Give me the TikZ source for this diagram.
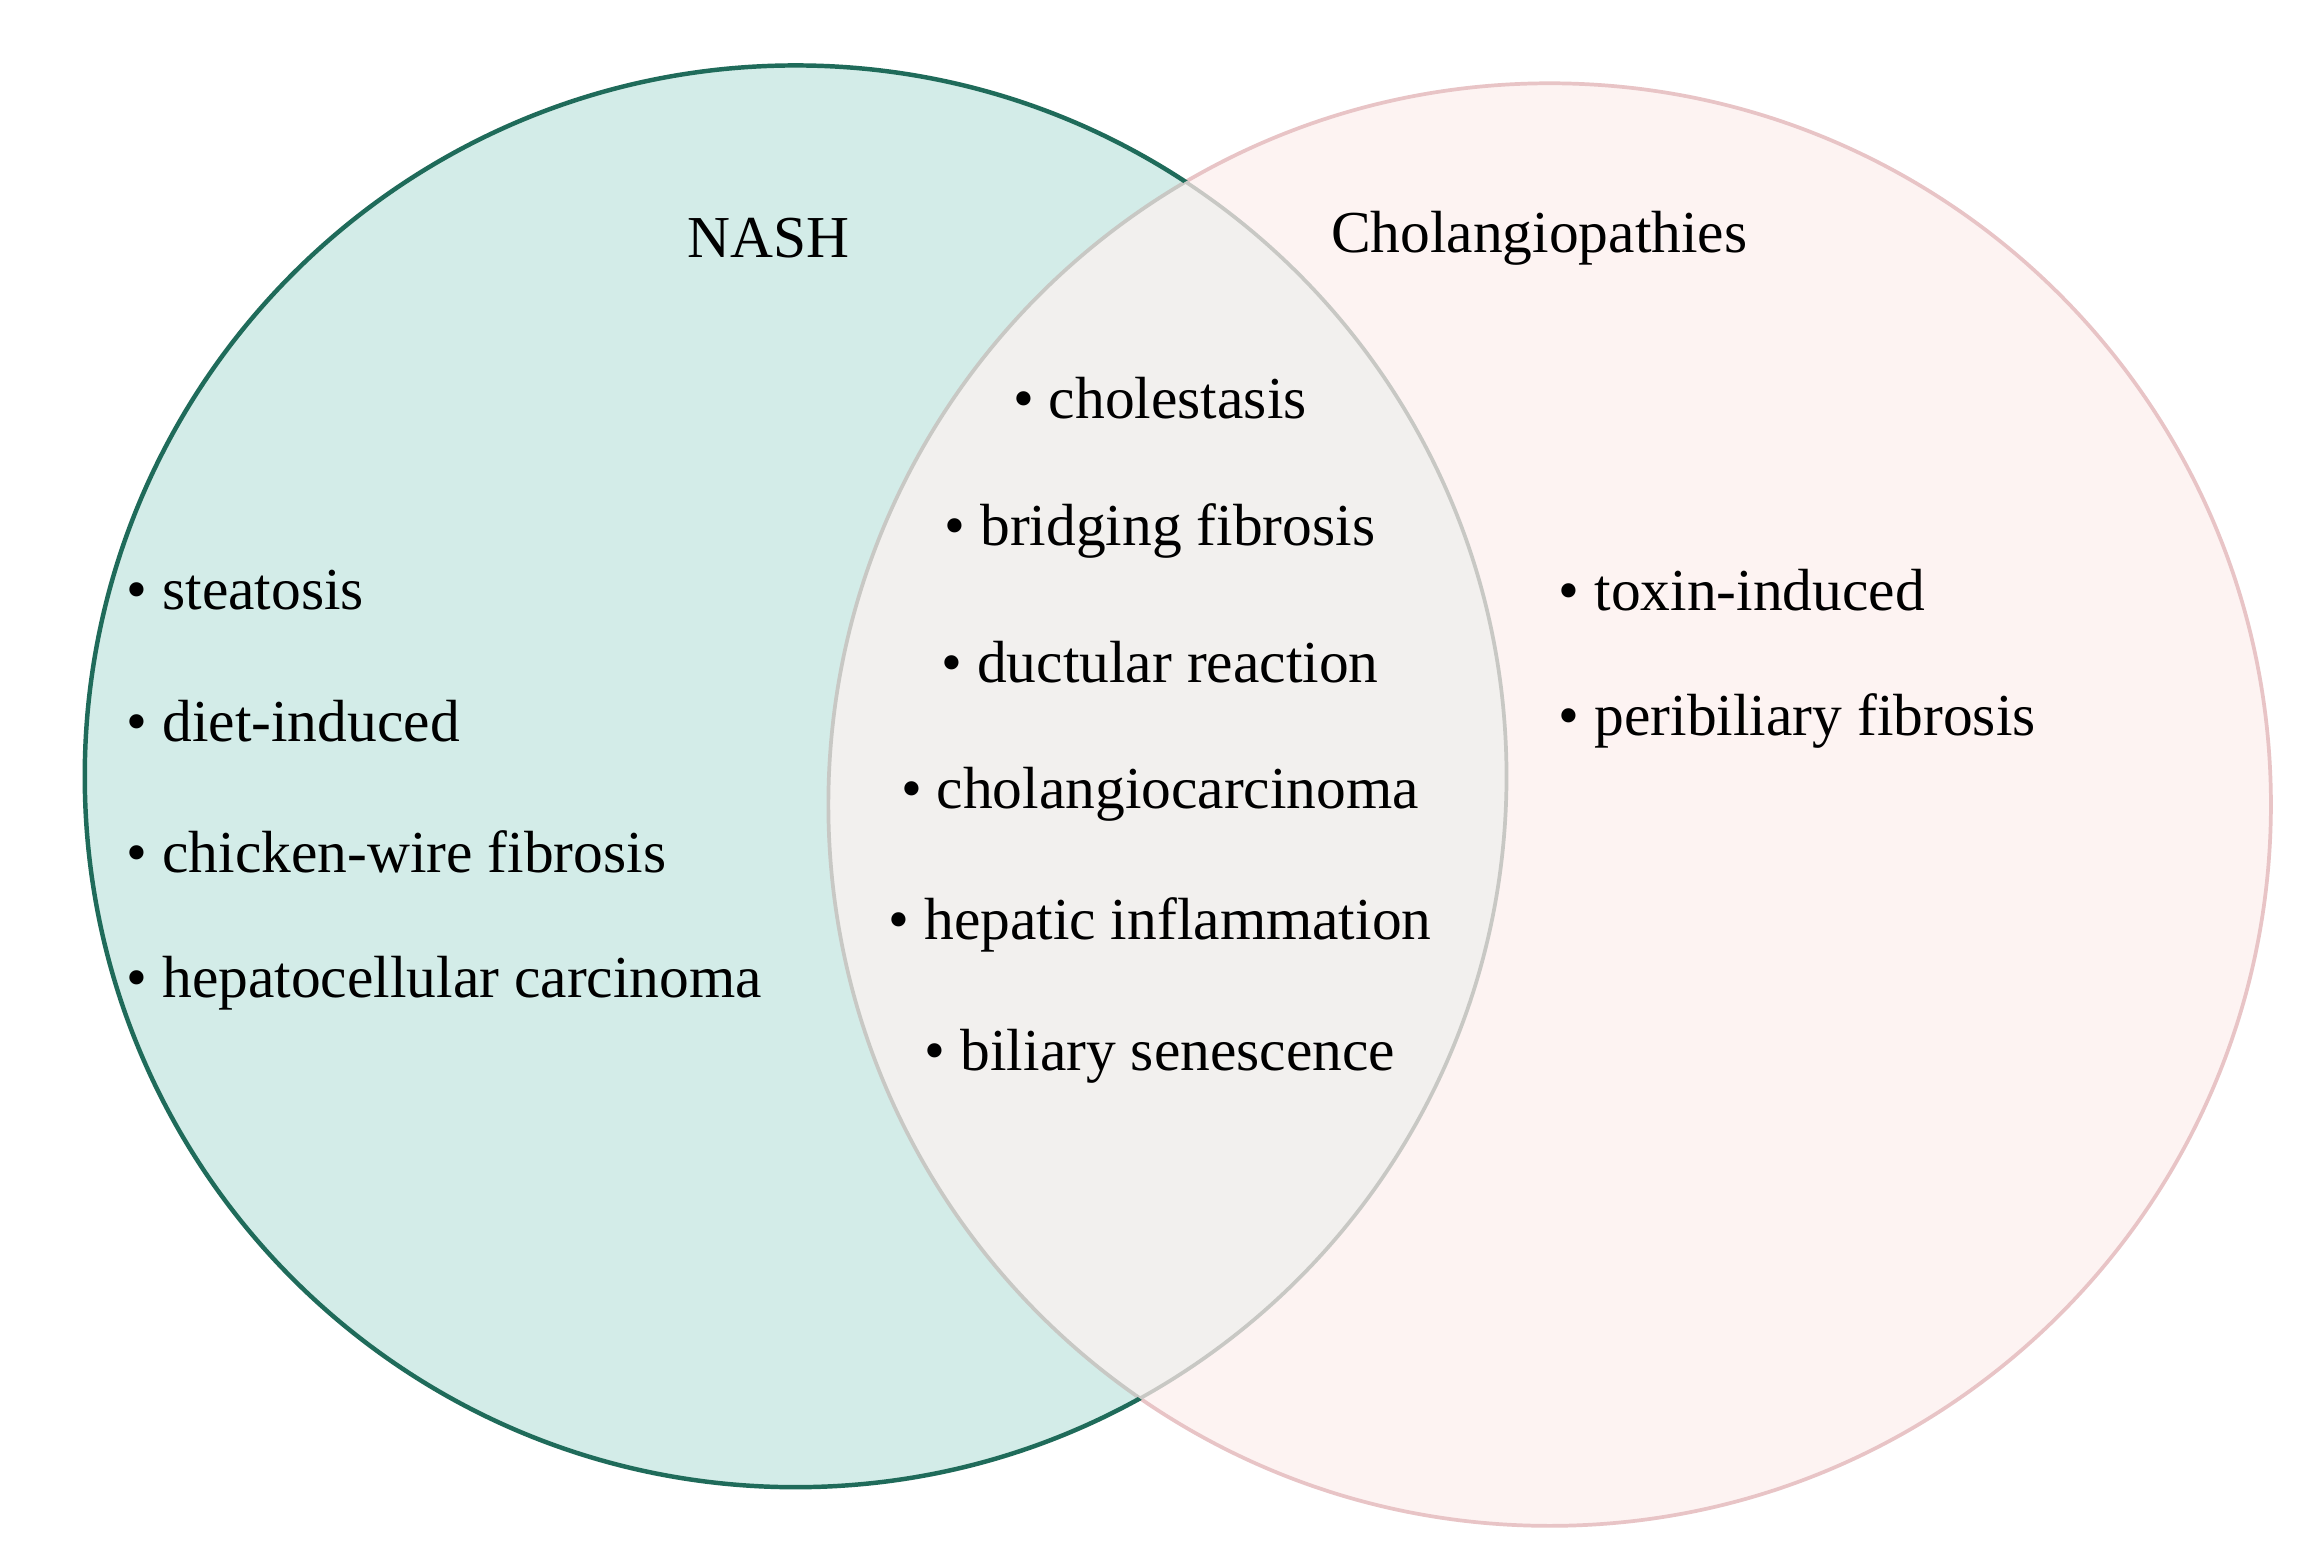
\documentclass[tikz,border=0pt]{standalone}
\usepackage{fontspec}
\setmainfont{Liberation Serif}
\begin{document}
\begin{tikzpicture}[x=1pt,y=-1pt,
  lbl/.style={font=\fontsize{40}{48}\selectfont, inner sep=0pt},
  itm/.style={lbl, anchor=west}]
\useasboundingbox (0,0) rectangle (1560,1044);
\fill[white] (0,0) rectangle (1560,1044);
\def\LC{(535,522) circle (478)}
\def\RC{(1042,541) circle (485)}
\fill[fill={rgb,255:red,211;green,236;blue,232}] \LC;
\fill[fill={rgb,255:red,253;green,243;blue,242}] \RC;
\begin{scope}
 \clip \LC;
 \fill[fill={rgb,255:red,242;green,240;blue,238}] \RC;
 \draw[line width=2.5pt, draw={rgb,255:red,200;green,200;blue,196}] \RC;
\end{scope}
\begin{scope}
 \clip (0,0) rectangle (1560,1044) \LC;
 \draw[line width=2.5pt, draw={rgb,255:red,232;green,196;blue,198}] \RC;
\end{scope}
\begin{scope}
 \clip (0,0) rectangle (1560,1044) \RC;
 \draw[line width=3pt, draw={rgb,255:red,31;green,107;blue,90}] \LC;
\end{scope}
\begin{scope}
 \clip \RC;
 \draw[line width=2.5pt, draw={rgb,255:red,200;green,200;blue,196}] \LC;
\end{scope}
\node[lbl] (nash) at (517,160) {NASH};
\node[lbl] (chol) at (1035,160) {Cholangiopathies};
\node[itm] (l1) at (85,397) {• steatosis};
\node[itm] (l2) at (85,485) {• diet-induced};
\node[itm] (l3) at (85,573) {• chicken-wire fibrosis};
\node[itm] (l4) at (85,661) {• hepatocellular carcinoma};
\node[lbl] (m1) at (780,268) {• cholestasis};
\node[lbl] (m2) at (780,357) {• bridging fibrosis};
\node[lbl] (m3) at (780,445) {• ductular reaction};
\node[lbl] (m4) at (780,534) {• cholangiocarcinoma};
\node[lbl] (m5) at (780,622) {• hepatic inflammation};
\node[lbl] (m6) at (780,710) {• biliary senescence};
\node[itm] (r1) at (1048,397) {• toxin-induced};
\node[itm] (r2) at (1048,485) {• peribiliary fibrosis};
\end{tikzpicture}
\end{document}
